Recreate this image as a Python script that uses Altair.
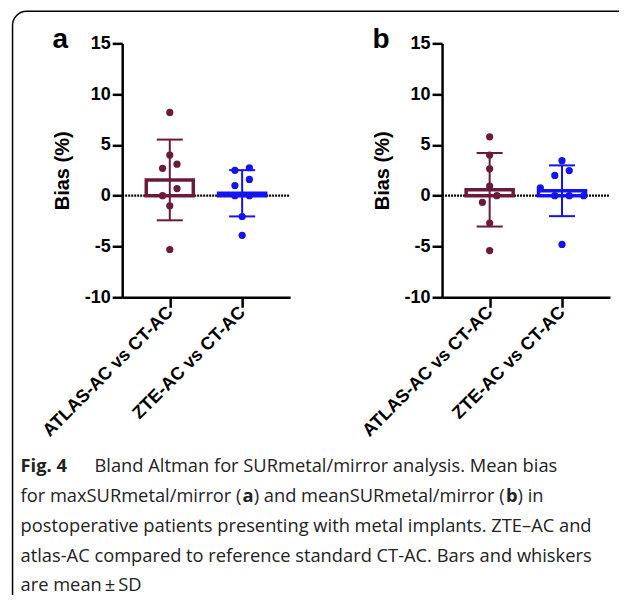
import altair as alt
import pandas as pd

# ---------------- data ----------------
categories = ["ATLAS-AC vs CT-AC", "ZTE-AC vs CT-AC"]
panels = ["a", "b"]
# values listed so that points sharing a row appear left-to-right in list order
atlas_a = [8.2, 4.0, 2.7, 3.1, 0.0, 0.7, -1.0, -5.3]
zte_a = [2.5, 2.75, 1.0, 1.6, 0.0, 0.0, -2.05, -3.9]
atlas_b = [5.8, 4.0, 2.65, 0.95, -0.65, 0.0, -2.7, -5.4]
zte_b = [3.45, 2.0, 2.47, 0.76, 0.0, 0.0, 0.0, -4.8]
y_ticks = [-10, -5, 0, 5, 10, 15]
colors = ["#6B1A3C", "#1414EE"]

series = {("a", 0): atlas_a, ("a", 1): zte_a, ("b", 0): atlas_b, ("b", 1): zte_b}

# ---------------- layout / style ----------------
W, H = 168, 254
XDOM = [0.3425, 2.663]
BAR_HALF = 0.325
CAP_HALF = 0.18
FONT = "Liberation Sans"
CAP_FONT = "Open Sans"
CAP_SIZE = 18.3
TXT = "#222222"


def swarm(values, thresh=0.8, step=0.2):
    """GraphPad-like scatter: group close values in rows, spread rows centred."""
    order = sorted(range(len(values)), key=lambda i: (-values[i], i))
    rows = []
    for i in order:
        if rows and values[rows[-1][0]] - values[i] <= thresh:
            rows[-1].append(i)
        else:
            rows.append([i])
    off = [0.0] * len(values)
    for r in rows:
        rs = sorted(r)
        n = len(rs)
        for k, i in enumerate(rs):
            off[i] = (k - (n - 1) / 2) * step
    return off


recs = []
for (p, c), vals in series.items():
    offs = swarm(vals)
    for v, o in zip(vals, offs):
        recs.append({"panel": p, "group": categories[c], "cat": c + 1,
                     "value": v, "pos": c + 1 + o})
df = pd.DataFrame(recs)
one = pd.DataFrame({"k": [0]})

xsc = alt.Scale(domain=XDOM, nice=False, zero=False)
ysc = alt.Scale(domain=[-10, 15], nice=False, zero=False)
label_expr = "datum.value == 1 ? '%s' : '%s'" % (categories[0], categories[1])
xaxis = alt.Axis(values=[1, 2], labelExpr=label_expr, title=None, grid=False,
                 labelAngle=-45, labelAlign="right", labelBaseline="middle",
                 labelPadding=2, labelFontSize=18, labelFontWeight="bold",
                 labelFont=FONT, labelColor="black", tickSize=10, tickWidth=2.5,
                 tickColor="black", domainColor="black", domainWidth=2.5,
                 labelOverlap=False, labelFlush=False)
yaxis = alt.Axis(values=y_ticks, labelExpr="'' + datum.value", title="Bias (%)",
                 grid=False, labelFontSize=18, labelFontWeight="bold", labelFont=FONT,
                 labelColor="black", labelPadding=2, tickSize=10, tickWidth=2.5,
                 tickColor="black", domainColor="black", domainWidth=2.5,
                 titleFont=FONT, titleFontSize=20, titleFontWeight="bold",
                 titleColor="black", titlePadding=12, labelFlush=False)
color = alt.Color("group:N", scale=alt.Scale(domain=categories, range=colors), legend=None)


def X(f):
    return alt.X(f, scale=xsc, axis=xaxis)


def Y(f):
    return alt.Y(f, scale=ysc, axis=yaxis)


def text_layer(s, x, y, size, weight="normal", font=CAP_FONT, col=TXT):
    return alt.Chart(one).mark_text(text=s, align="left", baseline="alphabetic",
                                    fontSize=size, fontWeight=weight, font=font,
                                    color=col).encode(x=alt.value(x), y=alt.value(y))


def panel(p, with_extras):
    d = df[df.panel == p]
    base = alt.Chart(d)
    layers = []
    if with_extras:
        frame = alt.Chart(one).mark_rect(filled=False, stroke="black", strokeWidth=1.5,
                                         cornerRadius=14).encode(
            x=alt.value(-109.7), x2=alt.value(518), y=alt.value(-32), y2=alt.value(570))
        layers.append(frame)
    zero = alt.Chart(one).mark_rule(color="black", strokeWidth=2.2, strokeDash=[2, 1]).encode(
        x=alt.value(0), x2=alt.value(W), y=alt.datum(0, scale=ysc))
    layers.append(zero)
    stats = base.transform_aggregate(
        m="mean(value)", sd="stdev(value)", groupby=["group", "cat"]
    ).transform_calculate(
        lo="datum.m - datum.sd", hi="datum.m + datum.sd",
        xl="datum.cat - %f" % BAR_HALF, xr="datum.cat + %f" % BAR_HALF,
        cl="datum.cat - %f" % CAP_HALF, cr="datum.cat + %f" % CAP_HALF)
    bar = stats.mark_bar(filled=False, strokeWidth=3.5).encode(
        x=X("xl:Q"), x2="xr:Q", y=Y("m:Q"), y2=alt.datum(0), stroke=color)
    err = stats.mark_rule(strokeWidth=2).encode(x=X("cat:Q"), y=Y("lo:Q"), y2="hi:Q", color=color)
    cap_hi = stats.mark_rule(strokeWidth=2).encode(x=X("cl:Q"), x2="cr:Q", y=Y("hi:Q"), color=color)
    cap_lo = stats.mark_rule(strokeWidth=2).encode(x=X("cl:Q"), x2="cr:Q", y=Y("lo:Q"), color=color)
    pts = base.mark_circle(size=52, opacity=1).encode(x=X("pos:Q"), y=Y("value:Q"), color=color)
    layers += [bar, err, cap_hi, cap_lo, pts]
    layers.append(text_layer(p, -69.7, 5, 28, "bold", FONT, "black"))
    if with_extras:
        ox = -101.7
        s = CAP_SIZE
        layers += [
            text_layer("Fig. 4", ox, 429, s, "bold"),
            text_layer("Bland Altman for SURmetal/mirror analysis. Mean bias", -27.7, 429, s),
            text_layer("for maxSURmetal/mirror (", ox, 459, s),
            text_layer("a", 120.3, 459, s, "bold"),
            text_layer(") and meanSURmetal/mirror (", 131.5, 459, s),
            text_layer("b", 384, 459, s, "bold"),
            text_layer(") in", 395.5, 459, s),
            text_layer("postoperative patients presenting with metal implants. ZTE\u2013AC and", ox, 489, s),
            text_layer("atlas-AC compared to reference standard CT-AC. Bars and whiskers", ox, 519, s),
            text_layer("are mean\u2009\u00b1\u2009SD", ox, 548, s),
        ]
    return alt.layer(*layers).properties(width=W, height=H)


chart = alt.hconcat(panel("a", True), panel("b", False), spacing=152, bounds="flush").properties(
    padding={"left": 3.25, "top": 1.25, "right": -23, "bottom": -20}
).configure_view(stroke="transparent")

chart.save("out.html", embed_options={"renderer": "svg", "actions": False})
